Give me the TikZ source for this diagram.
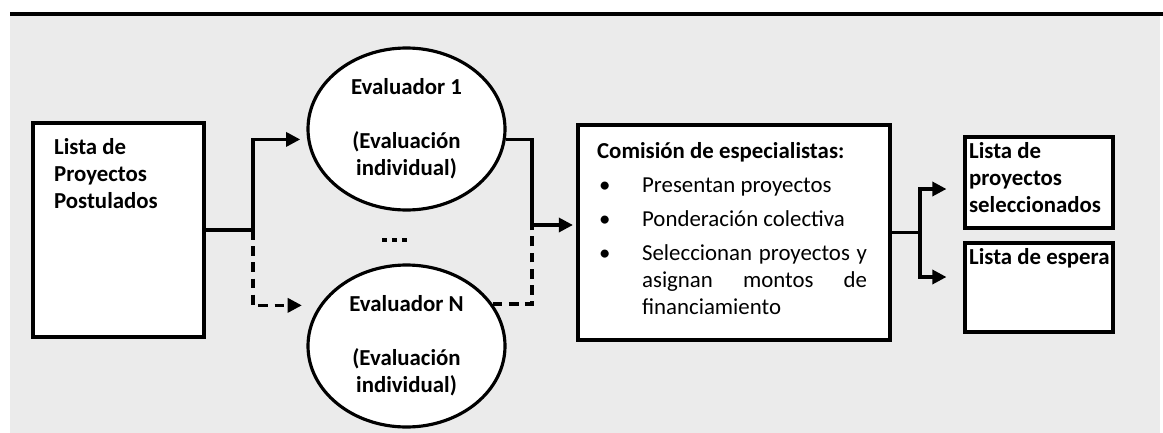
\documentclass[tikz,border=0pt]{standalone}
\usepackage{fontspec}
\setmainfont{Carlito}
\usepackage{tikz}
\usetikzlibrary{positioning,arrows.meta,shapes.geometric}

\begin{document}
\begin{tikzpicture}[x=1cm,y=-1cm,
  font=\fontsize{6.5}{7.7}\selectfont,
  box/.style={draw, line width=0.9pt, fill=white, inner sep=0pt},
  boxtext/.style={anchor=north west, align=left, inner sep=0pt, font=\fontsize{6.5}{7.7}\selectfont\bfseries},
  oval/.style={ellipse, draw, line width=0.9pt, fill=white, inner sep=0pt,
    minimum width=1.97cm, minimum height=1.62cm, align=center,
    font=\fontsize{6.5}{7.7}\selectfont\bfseries},
  flow/.style={line width=0.9pt, -{Triangle[length=4pt,width=4pt]}},
  dflow/.style={flow, dash pattern=on 2.8pt off 1.8pt},
  dline/.style={line width=0.9pt, dash pattern=on 2.8pt off 1.8pt}]
\useasboundingbox (0,0) rectangle (11.63,4.33);
% fondo
\fill[gray!16] (0.10,0.14) rectangle (11.60,4.33);
\draw[line width=1pt] (0.10,0.14) -- (11.63,0.14);

\node[box, minimum width=1.71cm, minimum height=2.14cm] (lista) at (1.185,2.30) {};
\node[boxtext] (listatxt) at ([shift={(0.22,0.16)}]lista.north west) {Lista de\\Proyectos\\Postulados};

\node[oval] (ev1) at (4.065,1.29) {Evaluador 1\\[7.7pt](Evaluación\\individual)};
\node[oval] (evN) at (4.065,3.46) {Evaluador N\\[7.7pt](Evaluación\\individual)};
\draw[line width=1.2pt, dash pattern=on 1.5pt off 1.33pt] (3.82,2.40) -- (4.08,2.40);

\node[box, minimum width=3.12cm, minimum height=2.15cm] (comision) at (7.34,2.325) {};
\node[boxtext, font=\fontsize{6.5}{7.7}\selectfont] (comtxt) at ([shift={(0.20,0.18)}]comision.north west) {%
  {\bfseries Comisión de especialistas:}\\[2pt]
  \hspace*{0.02cm}\makebox[0.43cm][l]{\textbullet}Presentan proyectos\\[2pt]
  \hspace*{0.02cm}\makebox[0.43cm][l]{\textbullet}Ponderación colectiva\\[2pt]
  \hspace*{0.02cm}\makebox[0.43cm][l]{\textbullet}\makebox[2.25cm][s]{Seleccionan proyectos y}\\
  \hspace*{0.45cm}\makebox[2.25cm][s]{asignan montos de}\\
  \hspace*{0.45cm}financiamiento};

\node[box, minimum width=1.48cm, minimum height=0.91cm] (seleccion) at (10.39,1.825) {};
\node[boxtext] (seltxt) at ([shift={(0.05,0.06)}]seleccion.north west) {Lista de\\proyectos\\seleccionados};
\node[box, minimum width=1.48cm, minimum height=0.89cm] (espera) at (10.39,2.875) {};
\node[boxtext] (esptxt) at ([shift={(0.05,0.06)}]espera.north west) {Lista de espera};

% conectores
\coordinate (split) at (2.53,2.30);
\coordinate (merge) at (5.32,2.25);
\coordinate (fork) at (9.20,2.325);
\draw[flow, shorten >=2pt] (lista.east) -- (split) |- (ev1.186);
\draw[dflow, shorten >=5pt] (split) |- (evN.155);
\draw[flow, shorten >=1pt] (ev1.-6) -| (merge) -- (comision.west |- merge);
\draw[dline] (evN.26) -| (merge);
\draw[flow, shorten >=0.17cm] (comision.east) -- (fork) |- ([shift={(0,0.065)}]seleccion.west);
\draw[flow, shorten >=0.17cm] (fork) |- ([shift={(0,-0.105)}]espera.west);
\end{tikzpicture}
\end{document}
